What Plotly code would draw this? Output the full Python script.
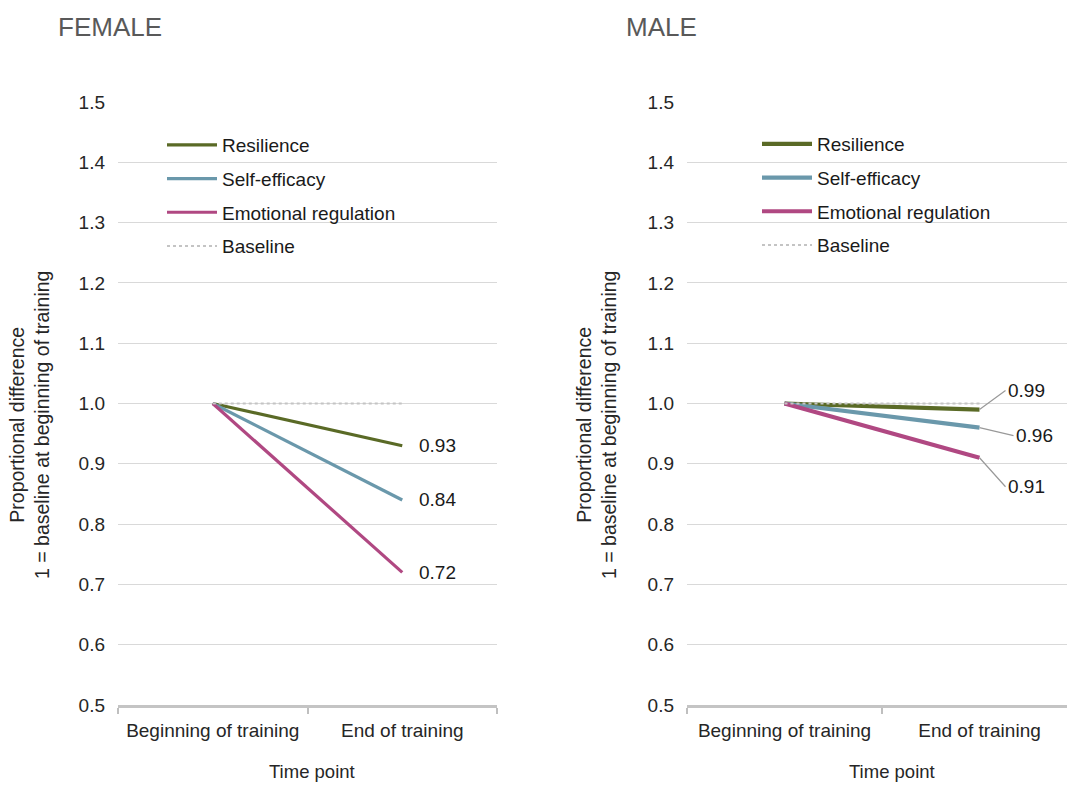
import plotly.graph_objects as go

time_points = ["Beginning of training", "End of training"]
series_names = ["Resilience", "Self-efficacy", "Emotional regulation", "Baseline"]
female_values = {
    "Resilience": [1.0, 0.93],
    "Self-efficacy": [1.0, 0.84],
    "Emotional regulation": [1.0, 0.72],
    "Baseline": [1.0, 1.0],
}
male_values = {
    "Resilience": [1.0, 0.99],
    "Self-efficacy": [1.0, 0.96],
    "Emotional regulation": [1.0, 0.91],
    "Baseline": [1.0, 1.0],
}
y_ticks = [0.5, 0.6, 0.7, 0.8, 0.9, 1.0, 1.1, 1.2, 1.3, 1.4, 1.5]
panel_titles = ["FEMALE", "MALE"]

colors = {
    "Resilience": "#5a6a26",
    "Self-efficacy": "#6a98ab",
    "Emotional regulation": "#b04882",
    "Baseline": "#c4c4c4",
}

W, H = 1067, 785
FONT = "Liberation Sans, Arial, sans-serif"
fs = 19

def px_x(p):
    return p / W

def px_y(p):
    return (H - p) / H

fig = go.Figure()

panels = [
    ("x", "y", "legend", female_values, 3.2),
    ("x2", "y2", "legend2", male_values, 4.2),
]
for xa, ya, lg, vals, lw in panels:
    for name in series_names:
        dash = "dot" if name == "Baseline" else "solid"
        width = 2 if name == "Baseline" else lw
        fig.add_trace(go.Scatter(
            x=time_points, y=vals[name], mode="lines", name=name,
            xaxis=xa, yaxis=ya, legend=lg, legendgroup=lg + name,
            line=dict(color=colors[name], width=width, dash=dash),
            hoverinfo="skip",
        ))

ydom = [px_y(705), px_y(102)]
common_y = dict(
    range=[0.5, 1.5], tickvals=y_ticks, tickformat=".1f",
    showgrid=True, gridcolor="#d9d9d9", gridwidth=1,
    zeroline=False, showline=False, ticks="",
    tickfont=dict(family=FONT, size=fs, color="#262626"),
    ticklabelstandoff=12, domain=ydom, fixedrange=True, automargin=False,
)
common_x = dict(
    type="category", tickson="boundaries", ticks="outside", ticklen=6,
    tickcolor="#bfbfbf", tickwidth=1.5,
    showline=True, linecolor="#c4c4c4", linewidth=2.5, showgrid=False,
    tickfont=dict(family=FONT, size=fs, color="#262626"),
    ticklabelstandoff=6, automargin=False, fixedrange=True,
)

fig.update_layout(
    width=W, height=H,
    margin=dict(l=0, r=0, t=0, b=0, pad=0, autoexpand=False),
    paper_bgcolor="white", plot_bgcolor="white",
    font=dict(family=FONT, size=fs, color="#262626"),
    xaxis=dict(common_x, domain=[px_x(118), px_x(497)], range=[-0.5, 1.5], anchor="y"),
    yaxis=dict(common_y, anchor="x"),
    xaxis2=dict(common_x, domain=[px_x(687), 1.0], range=[-0.5, -0.5 + 380 / 195], anchor="y2"),
    yaxis2=dict(common_y, anchor="x2"),
    legend=dict(x=px_x(162), y=px_y(126), xanchor="left", yanchor="top",
                bgcolor="rgba(0,0,0,0)", itemwidth=50, tracegroupgap=6,
                font=dict(family=FONT, size=fs, color="#1a1a1a")),
    legend2=dict(x=px_x(757), y=px_y(125), xanchor="left", yanchor="top",
                 bgcolor="rgba(0,0,0,0)", itemwidth=50, tracegroupgap=6,
                 font=dict(family=FONT, size=fs, color="#1a1a1a")),
    showlegend=True,
)

ann = []
# panel titles
ann.append(dict(text=panel_titles[0], x=px_x(56), y=px_y(27), xref="paper", yref="paper",
                xanchor="left", yanchor="middle", showarrow=False,
                font=dict(family=FONT, size=26, color="#595959")))
ann.append(dict(text=panel_titles[1], x=px_x(624), y=px_y(27), xref="paper", yref="paper",
                xanchor="left", yanchor="middle", showarrow=False,
                font=dict(family=FONT, size=26, color="#595959")))
# y titles
ytitle = "Proportional difference<br>1 = baseline at beginning of training"
for cx in (29, 596):
    ann.append(dict(text=ytitle, x=px_x(cx), y=px_y(425), xref="paper", yref="paper",
                    xanchor="center", yanchor="middle", textangle=-90, showarrow=False,
                    font=dict(family=FONT, size=19.5, color="#262626")))
# x titles
for cx in (312, 892):
    ann.append(dict(text="Time point", x=px_x(cx), y=px_y(771), xref="paper", yref="paper",
                    xanchor="center", yanchor="middle", showarrow=False,
                    font=dict(family=FONT, size=18.5, color="#262626")))
# female end labels
for name in series_names[:3]:
    v = female_values[name][1]
    ann.append(dict(text=f"{v:.2f}", x=time_points[1], y=v, xref="x", yref="y",
                    xanchor="left", yanchor="middle", xshift=15, showarrow=False,
                    font=dict(family=FONT, size=fs, color="#1a1a1a")))
# male end labels with leader lines
offsets = {"Resilience": (26, -19), "Self-efficacy": (34, 8), "Emotional regulation": (26, 29)}
for name in series_names[:3]:
    v = male_values[name][1]
    axo, ayo = offsets[name]
    ann.append(dict(text=f"{v:.2f}", x=time_points[1], y=v, xref="x2", yref="y2",
                    showarrow=True, arrowhead=0, arrowwidth=1.2, arrowcolor="#999999",
                    ax=axo, ay=ayo, xanchor="left", yanchor="middle", standoff=0,
                    font=dict(family=FONT, size=fs, color="#1a1a1a")))

fig.update_layout(annotations=ann)
fig.write_html("out.html",
               config={"displayModeBar": False},
               post_script="document.body.style.margin='0';document.body.style.padding='0';")
